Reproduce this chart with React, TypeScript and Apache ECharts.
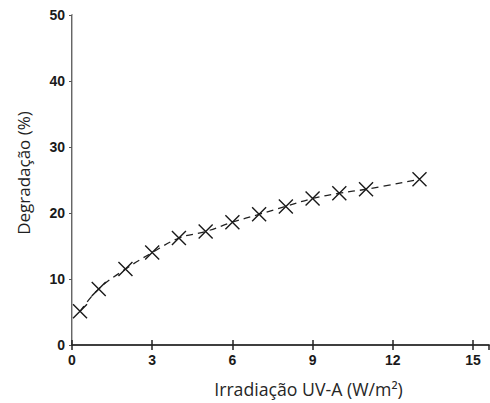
import React, { useEffect, useRef } from "react";
import * as echarts from "echarts";

const irradiance = [0.3, 1, 2, 3, 4, 5, 6, 7, 8, 9, 10, 11, 13];
const degradation = [5.1, 8.5, 11.5, 14.0, 16.2, 17.2, 18.6, 19.8, 21.0, 22.2, 23.0, 23.6, 25.1];
const xTicks = [0, 3, 6, 9, 12, 15];
const yTicks = [0, 10, 20, 30, 40, 50];

export default function App() {
  const ref = useRef<HTMLDivElement>(null);
  useEffect(() => {
    if (!ref.current) return;
    const chart = echarts.init(ref.current, null, { renderer: "svg" });
    const data = irradiance.map((x, i) => [x, degradation[i]]);
    const labelStyle = {
      color: "#1a1a1a",
      fontFamily: "Liberation Sans, Arial, sans-serif",
      fontWeight: "bold" as const,
      fontSize: 14,
    };
    chart.setOption({
      animation: false,
      backgroundColor: "#ffffff",
      grid: { left: 72, top: 15, right: 1, bottom: 57, containLabel: false },
      xAxis: [
        {
          type: "value",
          min: 0,
          max: 15.6,
          interval: 3,
          name: "Irradiação UV-A (W/m²)",
          nameLocation: "middle",
          nameGap: 35,
          nameTextStyle: {
            fontFamily: "Open Sans, sans-serif",
            fontSize: 17.7,
            color: "#262626",
            padding: [0, 0, 0, 56],
          },
          axisLine: { lineStyle: { color: "#333", width: 1.5 } },
          axisTick: { inside: true, length: 5, lineStyle: { color: "#222", width: 1.5 } },
          axisLabel: {
            ...labelStyle,
            margin: 8,
            showMaxLabel: false,
            formatter: (v: number) => (xTicks.includes(v) ? String(v) : ""),
          },
          splitLine: { show: false },
        },
        {
          type: "value",
          position: "top",
          min: 0,
          max: 15.6,
          interval: 3,
          axisLine: { show: true, lineStyle: { color: "#333", width: 1.5 } },
          axisTick: { inside: true, length: 5, lineStyle: { color: "#222", width: 1.5 } },
          axisLabel: { show: false },
          splitLine: { show: false },
        },
      ],
      yAxis: [
        {
          type: "value",
          min: 0,
          max: 50,
          interval: 10,
          name: "Degradação (%)",
          nameLocation: "middle",
          nameGap: 40,
          nameTextStyle: {
            fontFamily: "Open Sans, sans-serif",
            fontSize: 17,
            color: "#1f1f1f",
            padding: [0, 0, 0, 14],
          },
          axisLine: { show: true, lineStyle: { color: "#333", width: 1.5 } },
          axisTick: { inside: false, length: 3, lineStyle: { color: "#555", width: 1 } },
          axisLabel: {
            ...labelStyle,
            margin: 7,
            formatter: (v: number) => (yTicks.includes(v) ? String(v) : ""),
          },
          splitLine: { show: false },
        },
        {
          type: "value",
          position: "right",
          min: 0,
          max: 50,
          interval: 10,
          axisLine: { show: true, lineStyle: { color: "#bbb", width: 1 } },
          axisTick: { show: false },
          axisLabel: { show: false },
          splitLine: { show: false },
        },
      ],
      series: [
        {
          type: "line",
          data,
          smooth: 0.4,
          lineStyle: { color: "#222", width: 1.3, type: [7, 5] },
          symbol: "path://M0,0L10,10M10,0L0,10",
          symbolSize: 14,
          itemStyle: { color: "transparent", borderColor: "#1a1a1a", borderWidth: 1.4 },
        },
      ],
    });
    return () => chart.dispose();
  }, []);
  return (
    <div
      ref={ref}
      style={{ position: "fixed", left: 0, top: 0, width: 490, height: 403, background: "#fff" }}
    />
  );
}
